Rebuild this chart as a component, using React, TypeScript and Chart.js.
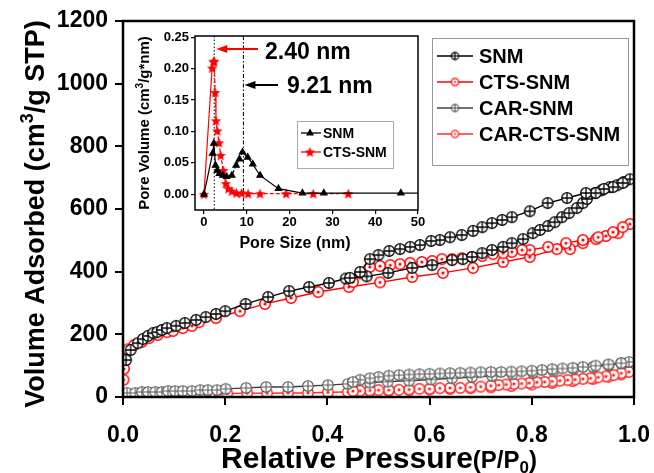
import React, { useEffect, useRef } from "react";
import { Chart, registerables } from "chart.js";
Chart.register(...registerables);

const FONT = "'Liberation Sans', Arial, Helvetica, sans-serif";

// ---------- Main isotherm data (P/P0, cm3/g STP) ----------
const snmAdsP = [0.006, 0.015, 0.029, 0.039, 0.049, 0.059, 0.067, 0.076, 0.086, 0.104, 0.121, 0.143, 0.162, 0.182, 0.200, 0.240, 0.284, 0.325, 0.364, 0.403, 0.436, 0.477, 0.519, 0.566, 0.605, 0.644, 0.665, 0.683, 0.703, 0.722, 0.744, 0.761, 0.783, 0.802, 0.816, 0.832, 0.845, 0.859, 0.873, 0.888, 0.900, 0.908, 0.924, 0.937, 0.953, 0.967, 0.980, 0.992];
const snmAdsV = [118, 150, 172, 185, 195, 204, 207, 214, 220, 227, 236, 246, 255, 265, 274, 297, 319, 338, 351, 364, 378, 385, 396, 412, 421, 437, 440, 447, 459, 469, 479, 491, 504, 523, 533, 546, 558, 574, 587, 603, 619, 632, 651, 660, 670, 676, 686, 695];
const snmDesP = [0.978, 0.959, 0.941, 0.925, 0.906, 0.869, 0.831, 0.796, 0.761, 0.742, 0.722, 0.703, 0.685, 0.663, 0.640, 0.620, 0.603, 0.581, 0.562, 0.542, 0.521, 0.500, 0.483, 0.464, 0.444];
const snmDesV = [683, 670, 664, 651, 651, 635, 619, 593, 574, 565, 555, 542, 530, 517, 510, 501, 498, 485, 479, 472, 466, 453, 440, 399, 380];

const ctsAdsP = [0.001, 0.002, 0.003, 0.005, 0.010, 0.022, 0.037, 0.051, 0.068, 0.086, 0.098, 0.117, 0.135, 0.149, 0.182, 0.229, 0.278, 0.329, 0.382, 0.442, 0.503, 0.566, 0.626, 0.685, 0.744, 0.796, 0.849, 0.875, 0.900, 0.926, 0.945, 0.969, 0.992];
const ctsAdsV = [55, 90, 120, 140, 152, 166, 176, 188, 198, 207, 211, 220, 227, 239, 252, 274, 297, 316, 335, 351, 366, 383, 396, 412, 431, 447, 472, 472, 491, 504, 514, 523, 552];
const ctsDesP = [0.978, 0.959, 0.930, 0.900, 0.867, 0.832, 0.796, 0.781, 0.761, 0.744, 0.724, 0.703, 0.683, 0.663, 0.644, 0.624, 0.605, 0.585, 0.562, 0.542, 0.523, 0.503, 0.483, 0.464, 0.450];
const ctsDesV = [542, 526, 510, 501, 491, 479, 469, 469, 463, 459, 456, 450, 447, 443, 440, 440, 434, 431, 428, 424, 421, 418, 415, 395, 367];

const carAdsP = [0.008, 0.024, 0.037, 0.049, 0.063, 0.076, 0.088, 0.102, 0.117, 0.135, 0.151, 0.166, 0.184, 0.201, 0.241, 0.280, 0.323, 0.362, 0.401, 0.440, 0.483, 0.518, 0.560, 0.603, 0.644, 0.683, 0.722, 0.762, 0.802, 0.842, 0.882, 0.920, 0.950, 0.975, 0.990];
const carAdsV = [13, 13, 16, 16, 16, 16, 19, 19, 19, 19, 22, 22, 22, 26, 29, 32, 32, 35, 38, 42, 46, 49, 52, 56, 60, 64, 68, 73, 78, 84, 90, 96, 102, 108, 112];
const carDesP = [0.975, 0.950, 0.925, 0.900, 0.880, 0.860, 0.840, 0.820, 0.800, 0.780, 0.760, 0.740, 0.720, 0.700, 0.680, 0.660, 0.640, 0.620, 0.600, 0.580, 0.560, 0.540, 0.520, 0.500, 0.483, 0.464, 0.450];
const carDesV = [108, 104, 100, 96, 93, 91, 89, 86, 84, 82, 81, 80, 80, 79, 78, 77, 76, 75, 74, 73, 72, 70, 68, 64, 60, 55, 48];

const ccAdsP = [0.018, 0.037, 0.055, 0.075, 0.094, 0.112, 0.131, 0.150, 0.170, 0.190, 0.204, 0.243, 0.282, 0.323, 0.362, 0.401, 0.440, 0.483, 0.520, 0.560, 0.600, 0.640, 0.680, 0.720, 0.760, 0.800, 0.840, 0.880, 0.920, 0.950, 0.975, 0.990];
const ccAdsV = [6, 6, 6, 6, 6, 6, 6, 8, 8, 10, 11, 12, 12, 13, 13, 15, 16, 18, 20, 22, 24, 26, 28, 31, 35, 40, 45, 51, 58, 65, 72, 80];
const ccDesP = [0.975, 0.960, 0.945, 0.930, 0.915, 0.900, 0.885, 0.870, 0.855, 0.840, 0.825, 0.810, 0.795, 0.780, 0.765, 0.750, 0.735, 0.720, 0.700, 0.680, 0.660, 0.640, 0.620, 0.600, 0.580, 0.560, 0.540, 0.520, 0.500, 0.483, 0.464, 0.450];
const ccDesV = [76, 70, 66, 63, 60, 58, 56, 54, 52, 50, 48, 47, 45, 43, 42, 40, 38, 36, 33, 31, 29, 29, 28, 26, 26, 24, 23, 22, 22, 21, 20, 19];

const mainXTicks = [0, 0.2, 0.4, 0.6, 0.8, 1.0];
const mainYTicks = [0, 200, 400, 600, 800, 1000, 1200];

// ---------- Inset pore size distribution ----------
const psSnmX = [0, 2.0, 2.3, 2.7, 3.1, 3.6, 4.4, 5.3, 6.5, 7.5, 8.3, 9.0, 10.2, 11.4, 13.1, 17.4, 23.0, 28.0, 46.0, 60.0];
const psSnmY = [0, 0.065, 0.081, 0.046, 0.038, 0.033, 0.030, 0.028, 0.030, 0.046, 0.056, 0.067, 0.059, 0.048, 0.030, 0.009, 0.002, 0.002, 0.002, 0.002];
const psCtsX = [0, 1.9, 2.2, 2.4, 2.6, 2.8, 3.1, 3.5, 3.9, 4.5, 5.1, 5.7, 6.5, 7.6, 8.8, 10.3, 13.1, 19.2, 25.5, 33.7];
const psCtsY = [0, 0.201, 0.211, 0.212, 0.162, 0.117, 0.101, 0.082, 0.062, 0.038, 0.017, 0.009, 0.005, 0.002, 0.002, 0.001, 0.001, 0.001, 0.001, 0.001];
const insetXTicks = [0, 10, 20, 30, 40, 50];
const insetYTicks = [0, 0.05, 0.1, 0.15, 0.2, 0.25];
const peakLabels = ["2.40 nm", "9.21 nm"];
const peakValues = [2.4, 9.21];

const pts = (xs: number[], ys: number[]) => xs.map((x, i) => ({ x, y: ys[i] }));

function makeCircleMarker(kind: string, stroke: string, r: number, lw: number) {
  const s = Math.ceil(2 * r + lw + 2);
  const c = document.createElement("canvas");
  c.width = s; c.height = s;
  const g = c.getContext("2d")!;
  const m = s / 2;
  g.lineWidth = lw; g.strokeStyle = stroke; g.fillStyle = "#fff";
  g.beginPath(); g.arc(m, m, r, 0, Math.PI * 2); g.fill(); g.stroke();
  if (kind === "cross") {
    g.beginPath(); g.moveTo(m - r, m); g.lineTo(m + r, m); g.moveTo(m, m - r); g.lineTo(m, m + r); g.stroke();
  } else {
    g.fillStyle = stroke; g.beginPath(); g.arc(m, m, Math.max(1, r * 0.3), 0, Math.PI * 2); g.fill();
  }
  return c;
}

function makeStar(color: string, r: number) {
  const s = Math.ceil(2 * r + 2);
  const c = document.createElement("canvas");
  c.width = s; c.height = s;
  const g = c.getContext("2d")!;
  const m = s / 2;
  g.fillStyle = color;
  g.beginPath();
  for (let i = 0; i < 10; i++) {
    const a = -Math.PI / 2 + (i * Math.PI) / 5;
    const rr = i % 2 ? r * 0.45 : r;
    const px = m + rr * Math.cos(a), py = m + 0.5 + rr * Math.sin(a);
    if (i === 0) g.moveTo(px, py); else g.lineTo(px, py);
  }
  g.closePath(); g.fill();
  return c;
}

type Seg = { t: string; size: number; dy?: number };
function drawRich(ctx: CanvasRenderingContext2D, segs: Seg[], x: number, y: number) {
  let w = 0;
  const ws: number[] = [];
  segs.forEach((s) => { ctx.font = `bold ${s.size}px ${FONT}`; const m = ctx.measureText(s.t).width; ws.push(m); w += m; });
  let cx = x - w / 2;
  ctx.textAlign = "left"; ctx.textBaseline = "alphabetic";
  segs.forEach((s, i) => { ctx.font = `bold ${s.size}px ${FONT}`; ctx.fillText(s.t, cx, y + (s.dy || 0)); cx += ws[i]; });
}

function arrowLeft(ctx: CanvasRenderingContext2D, x0: number, x1: number, y: number, color: string) {
  ctx.save();
  ctx.strokeStyle = color; ctx.fillStyle = color; ctx.lineWidth = 2;
  ctx.beginPath(); ctx.moveTo(x0, y); ctx.lineTo(x1 + 8, y); ctx.stroke();
  ctx.beginPath(); ctx.moveTo(x1, y); ctx.lineTo(x1 + 11, y - 4); ctx.lineTo(x1 + 11, y + 4); ctx.closePath(); ctx.fill();
  ctx.restore();
}

export default function App() {
  const mainRef = useRef<HTMLCanvasElement>(null);
  const insetRef = useRef<HTMLCanvasElement>(null);

  useEffect(() => {
    const mk = {
      snm: makeCircleMarker("cross", "#000", 5.3, 1.3),
      cts: makeCircleMarker("dot", "#ff0000", 5.2, 1.5),
      car: makeCircleMarker("cross", "#555", 5.3, 1.1),
      cc: makeCircleMarker("dot", "#ff2020", 5.2, 1.4),
    };
    const lg = {
      snm: makeCircleMarker("cross", "#000", 3.6, 1.2),
      cts: makeCircleMarker("dot", "#ff0000", 3.6, 1.3),
      car: makeCircleMarker("cross", "#555", 3.6, 1.1),
      cc: makeCircleMarker("dot", "#ff2020", 3.6, 1.3),
    };
    const legendMarkers = [lg.snm, lg.cts, lg.car, lg.cc];

    const mainDecor = {
      id: "mainDecor",
      afterDraw(chart: any) {
        const { ctx, chartArea: a } = chart;
        ctx.save();
        ctx.strokeStyle = "#000"; ctx.lineWidth = 2.5;
        ctx.strokeRect(a.left, a.top, a.right - a.left, a.bottom - a.top);
        // legend
        ctx.strokeStyle = "#999"; ctx.lineWidth = 1;
        ctx.strokeRect(432.5, 38.5, 196, 127);
        chart.data.datasets.forEach((ds: any, i: number) => {
          const y = 56 + i * 26;
          ctx.strokeStyle = ds.borderColor; ctx.lineWidth = 1.5;
          ctx.beginPath(); ctx.moveTo(437, y); ctx.lineTo(473, y); ctx.stroke();
          const im = legendMarkers[i];
          ctx.drawImage(im, 455 - im.width / 2, y - im.height / 2);
          ctx.fillStyle = "#000"; ctx.font = `bold 20px ${FONT}`;
          ctx.textAlign = "left"; ctx.textBaseline = "middle";
          ctx.fillText(ds.label, 479, y + 1);
        });
        // axis titles
        ctx.fillStyle = "#000";
        ctx.save();
        ctx.translate(44, 214);
        ctx.rotate(-Math.PI / 2);
        drawRich(ctx, [{ t: "Volume Adsorbed (cm", size: 27 }, { t: "3", size: 18, dy: -11 }, { t: "/g STP)", size: 27 }], 0, 0);
        ctx.restore();
        drawRich(ctx, [{ t: "Relative Pressure", size: 30 }, { t: "(P/P", size: 24 }, { t: "0", size: 17, dy: 5 }, { t: ")", size: 24 }], 379, 468);
        ctx.restore();
      },
    };

    const tickFontMain = { family: FONT, size: 23, weight: "bold" as const };
    const main = new Chart(mainRef.current!, {
      type: "scatter",
      data: {
        datasets: [
          { label: "SNM", data: [...pts(snmAdsP, snmAdsV), ...pts(snmDesP, snmDesV)], borderColor: "#000", borderWidth: 1.4, pointStyle: mk.snm as any, pointRadius: 5, showLine: true },
          { label: "CTS-SNM", data: [...pts(ctsAdsP, ctsAdsV), ...pts(ctsDesP, ctsDesV)], borderColor: "#ff0000", borderWidth: 1.4, pointStyle: mk.cts as any, pointRadius: 5, showLine: true },
          { label: "CAR-SNM", data: [...pts(carAdsP, carAdsV), ...pts(carDesP, carDesV)], borderColor: "#404040", borderWidth: 1.4, pointStyle: mk.car as any, pointRadius: 5, showLine: true },
          { label: "CAR-CTS-SNM", data: [...pts(ccAdsP, ccAdsV), ...pts(ccDesP, ccDesV)], borderColor: "#ff3030", borderWidth: 1.4, pointStyle: mk.cc as any, pointRadius: 5, showLine: true },
        ],
      },
      options: {
        animation: false,
        responsive: false,
        events: [],
        layout: { padding: { left: 0, top: 21, right: 20, bottom: 0 } },
        plugins: { legend: { display: false }, tooltip: { enabled: false }, title: { display: false } },
        scales: {
          x: {
            type: "linear", min: 0, max: 1,
            afterBuildTicks: (s: any) => { s.ticks = mainXTicks.map((v) => ({ value: v })); },
            afterFit: (s: any) => { s.height = 76; s.paddingLeft = 0; s.paddingRight = 0; },
            border: { display: false },
            grid: { display: true, drawOnChartArea: false, drawTicks: true, tickLength: 8, color: "#000", lineWidth: 2 },
            ticks: { color: "#000", font: tickFontMain, padding: 17, maxRotation: 0, callback: (v: any) => Number(v).toFixed(1) },
          },
          y: {
            type: "linear", min: 0, max: 1200,
            afterBuildTicks: (s: any) => { s.ticks = mainYTicks.map((v) => ({ value: v })); },
            afterFit: (s: any) => { s.width = 123; s.paddingTop = 0; s.paddingBottom = 0; },
            border: { display: false },
            grid: { display: true, drawOnChartArea: false, drawTicks: true, tickLength: 8, color: "#000", lineWidth: 2 },
            ticks: { color: "#000", font: tickFontMain, padding: 7, callback: (v: any) => String(v) },
          },
        },
      },
      plugins: [mainDecor],
    });

    // ---------- inset ----------
    const star = makeStar("#ff0000", 5.5);
    const starSmall = makeStar("#ff0000", 5.5);
    const insetDecor = {
      id: "insetDecor",
      beforeDatasetsDraw(chart: any) {
        const { ctx, chartArea: a, scales } = chart;
        ctx.save();
        ctx.strokeStyle = "#000"; ctx.lineWidth = 1;
        const x1 = scales.x.getPixelForValue(peakValues[0]);
        ctx.setLineDash([1.5, 2]);
        ctx.beginPath(); ctx.moveTo(x1, a.top); ctx.lineTo(x1, a.bottom); ctx.stroke();
        const x2 = scales.x.getPixelForValue(peakValues[1]);
        ctx.setLineDash([4, 2, 1.5, 2]);
        ctx.beginPath(); ctx.moveTo(x2, a.top); ctx.lineTo(x2, a.bottom); ctx.stroke();
        ctx.restore();
      },
      afterDraw(chart: any) {
        const { ctx, chartArea: a, scales } = chart;
        ctx.save();
        ctx.strokeStyle = "#000"; ctx.lineWidth = 1.5;
        ctx.strokeRect(a.left, a.top, a.right - a.left, a.bottom - a.top);
        const x1 = scales.x.getPixelForValue(peakValues[0]);
        const x2 = scales.x.getPixelForValue(peakValues[1]);
        arrowLeft(ctx, 128, x1 + 2, 24, "#ff0000");
        arrowLeft(ctx, 148, x2 + 1, 60, "#000");
        ctx.fillStyle = "#000"; ctx.font = `bold 23px ${FONT}`;
        ctx.textAlign = "left"; ctx.textBaseline = "middle";
        ctx.fillText(peakLabels[0], 135, 28);
        ctx.fillText(peakLabels[1], 157, 62);
        // legend
        ctx.strokeStyle = "#aaa"; ctx.lineWidth = 1;
        ctx.strokeRect(167.5, 96.5, 96, 47);
        const ents = [
          { label: chart.data.datasets[0].label, color: "#000", y: 108 },
          { label: chart.data.datasets[1].label, color: "#ff0000", y: 127 },
        ];
        ents.forEach((e, i) => {
          ctx.strokeStyle = e.color; ctx.lineWidth = 1.3;
          ctx.beginPath(); ctx.moveTo(171, e.y); ctx.lineTo(191, e.y); ctx.stroke();
          if (i === 0) {
            ctx.fillStyle = "#000";
            ctx.beginPath(); ctx.moveTo(180, e.y - 4.5); ctx.lineTo(184, e.y + 2.5); ctx.lineTo(176, e.y + 2.5); ctx.closePath(); ctx.fill();
          } else {
            ctx.drawImage(starSmall, 180 - starSmall.width / 2, e.y - starSmall.height / 2);
          }
          ctx.fillStyle = "#000"; ctx.font = `bold 14px ${FONT}`;
          ctx.textAlign = "left"; ctx.textBaseline = "middle";
          ctx.fillText(e.label, 193, e.y + 1);
        });
        // titles
        ctx.fillStyle = "#000";
        ctx.save();
        ctx.translate(18.5, 98);
        ctx.rotate(-Math.PI / 2);
        drawRich(ctx, [{ t: "Pore Volume (cm", size: 15 }, { t: "3", size: 10, dy: -6 }, { t: "/g*nm)", size: 15 }], 0, 0);
        ctx.restore();
        drawRich(ctx, [{ t: "Pore Size (nm)", size: 16 }], 165, 223);
        ctx.restore();
      },
    };
    const tickFontInset = { family: FONT, size: 13, weight: "bold" as const };
    const inset = new Chart(insetRef.current!, {
      type: "scatter",
      data: {
        datasets: [
          {
            label: "SNM", data: pts(psSnmX, psSnmY), borderColor: "#000", backgroundColor: "#000", borderWidth: 1.2,
            pointStyle: "triangle", pointRadius: 3.6, showLine: true,
            segment: { borderDash: (c: any) => (c.p0DataIndex >= 3 && c.p0DataIndex <= 10 ? [3, 2] : undefined) },
          } as any,
          {
            label: "CTS-SNM", data: pts(psCtsX, psCtsY), borderColor: "#ff0000", backgroundColor: "#ff0000", borderWidth: 1.2,
            pointStyle: star as any, pointRadius: 5, showLine: true,
            segment: { borderDash: (c: any) => (c.p0DataIndex >= 3 ? [4, 2] : undefined) },
          } as any,
        ],
      },
      options: {
        animation: false,
        responsive: false,
        events: [],
        layout: { padding: { left: 0, top: 11, right: 12, bottom: 0 } },
        plugins: { legend: { display: false }, tooltip: { enabled: false }, title: { display: false } },
        scales: {
          x: {
            type: "linear", min: -2.1, max: 50,
            afterBuildTicks: (s: any) => { s.ticks = insetXTicks.map((v) => ({ value: v })); },
            afterFit: (s: any) => { s.height = 50; s.paddingLeft = 0; s.paddingRight = 0; },
            border: { display: false },
            grid: { display: true, drawOnChartArea: false, drawTicks: true, tickLength: 4, color: "#000", lineWidth: 1.2 },
            ticks: { color: "#000", font: tickFontInset, padding: 1, maxRotation: 0, callback: (v: any) => String(v) },
          },
          y: {
            type: "linear", min: -0.025, max: 0.252,
            afterBuildTicks: (s: any) => { s.ticks = insetYTicks.map((v) => ({ value: v })); },
            afterFit: (s: any) => { s.width = 65; s.paddingTop = 0; s.paddingBottom = 0; },
            border: { display: false },
            grid: { display: true, drawOnChartArea: false, drawTicks: true, tickLength: 4, color: "#000", lineWidth: 1.2 },
            ticks: { color: "#000", font: tickFontInset, padding: 2, callback: (v: any) => Number(v).toFixed(2) },
          },
        },
      },
      plugins: [insetDecor],
    });

    return () => { main.destroy(); inset.destroy(); };
  }, []);

  return (
    <div style={{ position: "fixed", left: 0, top: 0, width: 654, height: 473, background: "#fff" }}>
      <canvas ref={mainRef} width={654} height={473} style={{ position: "absolute", left: 0, top: 0, width: 654, height: 473 }} />
      <canvas ref={insetRef} width={300} height={235} style={{ position: "absolute", left: 130, top: 25, width: 300, height: 235 }} />
    </div>
  );
}
